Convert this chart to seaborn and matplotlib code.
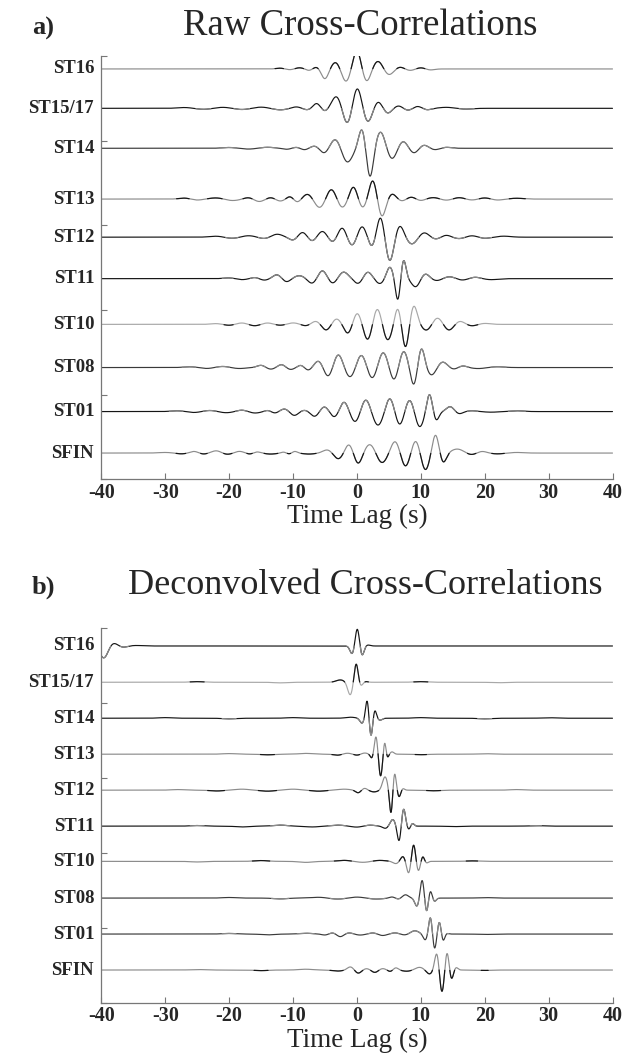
import numpy as np
import pandas as pd
import matplotlib
matplotlib.use("Agg")
import matplotlib.pyplot as plt
import seaborn as sns

# ---------------- data ----------------
stations = ["ST16", "ST15/17", "ST14", "ST13", "ST12", "ST11", "ST10", "ST08", "ST01", "SFIN"]
raw_offsets = [0.153, 0.618, 1.09, 1.69, 2.14, 2.63, 3.17, 3.68, 4.20, 4.69]
dec_offsets = [0.236, 0.72, 1.20, 1.68, 2.16, 2.64, 3.11, 3.60, 4.08, 4.56]
xtick_values = [-40, -30, -20, -10, 0, 10, 20, 30, 40]
xtick_labels = ["-40", "-30", "-20", "-10", "0", "10", "20", "30", "40"]
ytick_values = [0, 1, 2, 3, 4, 5]

# extrema (time lag s, amplitude) read from the raw cross-correlations
raw_st16 = [(-12, 0.8), (-10.5, -0.8), (-9, 1.2), (-7.5, -1.5), (-6.3, 2), (-5.0, -10), (-3.3, 7),
            (-1.7, -13), (0.0, 19), (1.5, -13), (3.3, 8), (5.0, -6), (6.7, 2), (8.3, -1.5), (10, 1.2), (11.5, -1)]
raw_st1517 = [(-27, 0.8), (-24, -1.0), (-21, 1.0), (-18, -1.2), (-15, 1.2), (-12, -1.5), (-9.5, 1.5),
              (-7.8, -1.5), (-6.3, 5), (-5.0, -3), (-3.2, 12), (-1.5, -16), (0.06, 21), (1.7, -14),
              (3.3, 7), (4.8, -5), (6.5, 2.5), (8.0, -2), (9.5, 2), (11, -1.5), (14, 1.0), (17, -0.8)]
raw_st14 = [(-20, 0.8), (-17, -0.8), (-14, 1.0), (-11, -1.0), (-9.5, 1.0), (-8.2, -1.5), (-6.6, 2.3),
            (-5.1, -5), (-3.35, 9.3), (-1.5, -14), (0.8, 20), (2.05, -30), (3.7, 16.7), (5.5, -11),
            (7.2, 7.3), (8.9, -5), (10.5, 3.3), (12.2, -1.5), (14, 1.0)]
raw_st13 = [(-27, 1.0), (-25, -1.0), (-22, 1.2), (-19.5, -1.5), (-17, 1.5), (-15.3, -2.5), (-13.5, 1.5),
            (-12, -2), (-10.5, 2.5), (-9.3, -3), (-7.7, 5), (-5.8, -8.7), (-4.0, 10.3), (-2.3, -8.7),
            (-0.55, 12.7), (0.9, -9), (2.5, 19.3), (3.9, -18), (5.5, 5.3), (7.0, -2), (8.5, 2), (10, -1.5),
            (12, 1.5), (14, -1.2), (16, 1.5), (18, -1.0), (20, 1.2), (22, -1.0), (25, 0.8)]
raw_st12 = [(-22, 1.0), (-19.5, -1.2), (-17, 1.5), (-14.5, -1.5), (-12.5, 3), (-10, -3), (-8.5, 5), (-7, -4),
            (-5.4, 6), (-3.8, -5), (-2.3, 9.7), (-0.75, -8.7), (0.8, 11), (2.35, -10), (3.7, 21),
            (5.15, -24.7), (6.7, 12), (8.6, -7), (10.5, 4.7), (12.3, -2), (14, 2), (16, -1.5), (18, 1.5),
            (20, -1.2), (23, 1.0)]
raw_st11 = [(-20, 0.8), (-18, -1.0), (-16, 1.2), (-14.5, -1.5), (-12.5, 4), (-11, -3.3), (-9, 3), (-7, -5),
            (-5.4, 8.3), (-3.8, -5), (-2.1, 6.7), (0.2, -5), (1.7, 6.7), (3.6, -5), (5.15, 11.7),
            (6.4, -22.3), (7.3, 19.3), (9.2, -8.3), (10.7, 5), (12.5, -2), (14.5, 2), (16.5, -1.5),
            (18.5, 1.5), (21, -1.0)]
raw_st10 = [(-22, 0.8), (-20, -1.0), (-18, 1.5), (-16, -1.5), (-14, 1.5), (-12, -1.0), (-10, 1.5), (-8, -1.5),
            (-6.4, 3.3), (-4.8, -6), (-3.2, 5.7), (-1.4, -9.3), (0.06, 11.7), (1.7, -16), (3.2, 16.7),
            (4.8, -16), (6.4, 17.3), (7.6, -24.3), (8.9, 19), (10.9, -6), (12.6, 6.7), (14.4, -6),
            (16.1, 3.3), (18, -1.5), (20, 1.0)]
raw_st08 = [(-26, 0.8), (-23.5, -1.0), (-21, 1.2), (-18.5, -1.0), (-15, 2.3), (-13.5, -1.7), (-11.8, 3),
            (-10.4, -2), (-8.8, 2.3), (-7.6, -2.7), (-6, 6.7), (-4.5, -9.3), (-2.9, 13.3), (-1.05, -10),
            (0.7, 13.3), (2.4, -11.7), (4.1, 15.7), (5.8, -13.3), (7.3, 16.7), (8.9, -18.3), (10.1, 20),
            (11.7, -7.7), (13.4, 5.7), (15.1, -1.7), (16.6, 1.7), (19, -1.0), (22, 0.8)]
raw_st01 = [(-28, 0.8), (-25.5, -1.0), (-23, 1.2), (-20.5, -1.2), (-18, 1.5), (-16, -1.5), (-14, 1.2),
            (-12.8, -1.5), (-11.3, 2.7), (-9.8, -4), (-8.2, 1.5), (-6.6, -5), (-5.1, 5), (-3.5, -5.7),
            (-2, 10), (-0.25, -10.7), (1.4, 12.7), (3.3, -14), (5.15, 14.3), (6.7, -14), (8.25, 12.7),
            (9.8, -15.7), (11.35, 18.3), (12.4, -9), (14.6, 5), (16, -2.3), (18, 0.8), (21, -0.6), (25, 0.8)]
raw_sfin = [(-30, 0.6), (-27.5, -0.8), (-25.5, 1.7), (-24, -1.0), (-22, 2.3), (-20.3, -1.3), (-18.4, 1.7),
            (-16.8, -1.0), (-15.6, 1.2), (-13.5, -1.0), (-11.5, 1.0), (-10.6, -0.8), (-9.7, 1.7), (-7.5, -1.0),
            (-4.6, 3.3), (-2.9, -6), (-1.25, 9), (0.2, -11), (2.05, 9), (3.9, -10), (6, 12.3), (7.6, -14),
            (9.2, 13.3), (10.7, -17.3), (12.3, 19), (13.5, -10), (15.7, 4), (17.9, -1.7), (19.6, 1.7),
            (22, -0.8), (25, 0.6)]

# extrema read from the deconvolved cross-correlations
dec_st16 = [(-39.6, -12), (-38.1, 3), (-36.6, -1.3), (-34.5, 0.5), (-0.74, -8), (0.06, 17.7), (0.8, -9.7),
            (1.7, 1.0)]
dec_st1517 = [(-25, 0.6), (-12, -0.6), (-2.6, 2.3), (-1.05, -12.7), (-0.12, 19), (0.6, -3.7), (1.4, 0.7),
              (10, 0.6), (22, -0.5)]
dec_st14 = [(-30, 0.6), (-20, -0.6), (-10, 0.6), (-1.0, 1.0), (0.8, -5), (1.6, 18.3), (2.2, -18.4),
            (2.8, 8.3), (3.6, -2), (10, 0.6), (20, -0.6), (30, 0.5)]
dec_st13 = [(-20, 0.6), (-14, -0.6), (-8, 0.8), (-3, -1.0), (-1.5, 1.0), (0, -1.0), (1.2, 1.2), (2.36, -4.3),
            (2.98, 18), (3.7, -22), (4.34, 12.3), (4.8, -3.3), (5.5, 2.3), (10, -0.5), (20, 0.5)]
dec_st12 = [(-28, 0.6), (-22, -0.8), (-18, 1.0), (-14, -1.0), (-10, 1.0), (-6, -1.0), (-2, 1.0), (0.2, -2.7),
            (1.2, 2.0), (2.67, -1.7), (4.4, 13.3), (5.33, -24), (5.9, 17.3), (6.6, -6.7), (7.2, 1.7),
            (12, -0.6), (25, 0.6)]
dec_st11 = [(-25, 0.6), (-18, -0.8), (-12, 1.0), (-7, -0.8), (-3, 1.0), (0, -1.0), (2, 1.0), (4.5, -2.3),
            (5.6, 6.7), (6.6, -15.7), (7.3, 17.7), (8.1, -3.3), (8.7, 2.7), (15, -0.5), (28, 0.5)]
dec_st10 = [(-25, -0.6), (-15, 0.8), (-8, -1.0), (-2, 1.0), (1, -1.0), (3.5, 1.0), (6.1, -2.3), (7.2, 5),
            (8.1, -12.3), (8.87, 17.3), (9.6, -10), (10.3, 5), (10.9, -1.7), (18, 0.5)]
dec_st08 = [(-20, 0.6), (-12, -0.8), (-6, 0.8), (-3, -1.0), (0, 1.0), (3, -1.0), (5.5, 1.2), (6.5, -1.0),
            (7.6, 3.3), (9.4, -8.3), (10.2, 18.3), (10.9, -14), (11.5, 7.3), (12.15, -3.3), (20, 0.5)]
dec_st01 = [(-20, 0.6), (-14, -0.8), (-8, 0.8), (-5, -1.0), (-3.8, 1.2), (-2.6, -2.7), (-1.2, 1.2),
            (0.5, -1.0), (2.5, 1.2), (4, -1.5), (6, 1.2), (7.5, -1.0), (9.05, 3.3), (10.7, -6), (11.5, 17.3),
            (12.15, -15), (12.9, 12.3), (13.5, -6.7), (14.1, 0.7), (20, -0.4)]
dec_sfin = [(-25, 0.5), (-15, -0.6), (-8, 0.8), (-3, -1.0), (-1.0, 3.3), (0.2, -3.3), (1.5, 1.5), (2.8, -2.5),
            (4.0, 1.5), (5.2, -1.5), (6.1, 2.3), (7.8, -1.2), (9.8, 2.7), (11.35, -4), (12.5, 17.3),
            (13.3, -22.7), (14.1, 18.3), (14.8, -9.3), (15.5, 2.7), (20, -0.4)]

raw_extrema = [raw_st16, raw_st1517, raw_st14, raw_st13, raw_st12, raw_st11, raw_st10, raw_st08, raw_st01, raw_sfin]
dec_extrema = [dec_st16, dec_st1517, dec_st14, dec_st13, dec_st12, dec_st11, dec_st10, dec_st08, dec_st01, dec_sfin]

# ---------------- style ----------------
BLACK = "#151515"
DARK = "#3a3a3a"
GRAY = "#8c8c8c"
LIGHT = "#a8a8a8"
raw_colors = [GRAY, BLACK, DARK, GRAY, BLACK, BLACK, LIGHT, DARK, BLACK, GRAY]
raw_alt = [BLACK, GRAY, GRAY, BLACK, GRAY, GRAY, BLACK, GRAY, GRAY, BLACK]
raw_alt_sign = [1, -1, 1, 1, -1, 1, -1, 1, 1, -1]
dec_colors = [BLACK, LIGHT, BLACK, GRAY, GRAY, BLACK, GRAY, DARK, DARK, GRAY]
dec_alt = [GRAY, BLACK, GRAY, BLACK, BLACK, GRAY, BLACK, GRAY, GRAY, BLACK]
dec_alt_sign = [-1, 1, -1, -1, -1, 1, 1, -1, 1, -1]

sns.set_theme(style="ticks")
plt.rcParams["font.family"] = ["Liberation Serif", "DejaVu Serif"]
plt.rcParams["axes.unicode_minus"] = False

W, H = 623, 1061
fig = plt.figure(figsize=(W / 100, H / 100), dpi=100)

t = np.arange(-40, 40.0001, 0.01)


def render(ext):
    ts = np.array([e[0] for e in ext], dtype=float)
    amps = np.array([e[1] for e in ext], dtype=float)
    gaps = np.diff(ts)
    left = np.r_[gaps[0], gaps]
    right = np.r_[gaps, gaps[-1]]
    w = 0.42 * np.minimum(np.minimum(left, right), 2.5)
    y = np.zeros_like(t)
    for ti, ai, wi in zip(ts, amps, w):
        y += ai * np.exp(-0.5 * ((t - ti) / wi) ** 2)
    return y


def panel(ax, extrema, offsets, colors, alts, signs, px_per_unit):
    rows = []
    ys = []
    for name, ext, off in zip(stations, extrema, offsets):
        y = render(ext)
        ys.append(y)
        rows.append(pd.DataFrame({"t": t, "y": off - y / px_per_unit, "station": name}))
    df = pd.concat(rows, ignore_index=True)
    sns.lineplot(data=df, x="t", y="y", hue="station", units="station", estimator=None,
                 palette=dict(zip(stations, colors)), legend=False, sort=False, lw=0.85, ax=ax)
    for y, off, col, s in zip(ys, offsets, alts, signs):
        mask = (s * y) > 0.35
        mask = mask | np.r_[mask[1:], False] | np.r_[False, mask[:-1]]
        yy = np.where(mask, off - y / px_per_unit, np.nan)
        ax.plot(t, yy, color=col, lw=0.85)
    ax.set_xlim(-40, 40)
    ax.set_ylim(5, 0)
    ax.set_xticks(xtick_values)
    ax.set_xticklabels(xtick_labels)
    ax.set_yticks(ytick_values)
    ax.set_yticklabels([])
    ax.tick_params(axis="both", direction="in", length=4, width=0.8, color="#777777")
    ax.tick_params(axis="x", labelsize=14.5, pad=2.5)
    for lab in ax.get_xticklabels():
        lab.set_fontweight("bold")
    for sp in ["top", "right"]:
        ax.spines[sp].set_visible(False)
    for sp in ["left", "bottom"]:
        ax.spines[sp].set_color("#777777")
        ax.spines[sp].set_linewidth(0.9)
    ax.set_xlabel("Time Lag (s)", fontsize=19.5, labelpad=1)
    ax.set_ylabel("")
    for name, off in zip(stations, offsets):
        ax.text(-0.014, off, name, transform=ax.get_yaxis_transform(), ha="right", va="center",
                fontsize=13.5, fontweight="bold")


L = 101.3 / W
Wd = (612.5 - 101.3) / W
ax1 = fig.add_axes([L, 1 - 479.3 / H, Wd, (479.3 - 56) / H])
ax2 = fig.add_axes([L, 1 - 1003 / H, Wd, (1003 - 628.3) / H])

panel(ax1, raw_extrema, raw_offsets, raw_colors, raw_alt, raw_alt_sign, 84.7)
panel(ax2, dec_extrema, dec_offsets, dec_colors, dec_alt, dec_alt_sign, 74.9)

fig.text(32 / W, 1 - 35 / H, "a)", fontsize=19, fontweight="bold", ha="left", va="baseline")
fig.text(360 / W, 1 - 35 / H, "Raw Cross-Correlations", fontsize=26.5, ha="center", va="baseline")
fig.text(32 / W, 1 - 594 / H, "b)", fontsize=19, fontweight="bold", ha="left", va="baseline")
fig.text(365 / W, 1 - 594 / H, "Deconvolved Cross-Correlations", fontsize=26, ha="center", va="baseline")

fig.savefig("out.png", dpi=100)
